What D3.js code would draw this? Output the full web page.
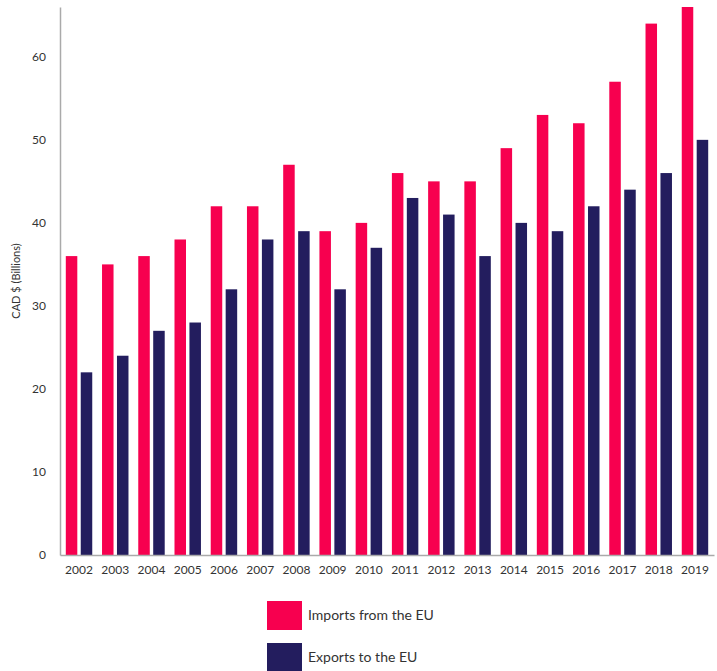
<!DOCTYPE html>
<html><head><meta charset="utf-8">
<script src="https://cdn.jsdelivr.net/npm/d3@7"></script>
<style>body{margin:0;background:#fff;}svg{display:block;font-family:Lato,"Open Sans",sans-serif;}</style>
</head><body><svg id="c" width="717" height="671"></svg>
<script>
const years = ["2002","2003","2004","2005","2006","2007","2008","2009","2010","2011","2012","2013","2014","2015","2016","2017","2018","2019"];
const imports = [36,35,36,38,42,42,47,39,40,46,45,45,49,53,52,57,64,66];
const exports_ = [22,24,27,28,32,38,39,32,37,43,41,36,40,39,42,44,46,50];
const yTicks = [0,10,20,30,40,50,60];
const seriesNames = ["Imports from the EU","Exports to the EU"];
const colors = ["#f7004f","#231d5e"];

(function(){
const svg = d3.select("#c");
const mLeft = 60, mRight = 714, mTop = 7, mBottom = 555;
const x = d3.scaleBand().domain(years).range([mLeft, mRight]).paddingInner(0.27).paddingOuter(0.16);
const xs = d3.scaleBand().domain([0,1]).range([0, x.bandwidth()]).paddingInner(0.23);
const y = d3.scaleLinear().domain([0,66]).range([mBottom, mTop]);

const g = svg.append("g");
years.forEach((yr,i)=>{
  [imports[i], exports_[i]].forEach((v,j)=>{
    g.append("rect").attr("x", x(yr)+xs(j)).attr("width", xs.bandwidth())
     .attr("y", y(v)).attr("height", y(0)-y(v)).attr("fill", colors[j]);
  });
});

const yAxis = svg.append("g").attr("transform",`translate(${mLeft},0)`)
  .call(d3.axisLeft(y).tickValues(yTicks).tickSize(0).tickPadding(14));
yAxis.select(".domain").attr("stroke","#aaa").attr("stroke-width",1.5);
yAxis.selectAll("text").attr("font-size",12).attr("fill","#333").attr("font-family","Lato,sans-serif");

const xAxis = svg.append("g").attr("transform",`translate(0,${mBottom})`)
  .call(d3.axisBottom(x).tickSize(0).tickPadding(10));
xAxis.select(".domain").attr("stroke","#aaa").attr("stroke-width",1.5);
xAxis.selectAll("text").attr("font-size",12).attr("fill","#333").attr("font-family","Lato,sans-serif");

svg.append("text").attr("transform","translate(20,281) rotate(-90)").attr("text-anchor","middle")
  .attr("font-size",11).attr("fill","#333").text("CAD $ (Billions)");

const lg = svg.append("g");
seriesNames.forEach((n,i)=>{
  const yy = 601 + i*42;
  lg.append("rect").attr("x",267).attr("y",yy).attr("width",35).attr("height",29).attr("fill",colors[i]);
  lg.append("text").attr("x",308).attr("y",yy+14.5).attr("dy","0.35em").attr("font-size",14).attr("fill","#333").text(n);
});
})();
</script></body></html>
